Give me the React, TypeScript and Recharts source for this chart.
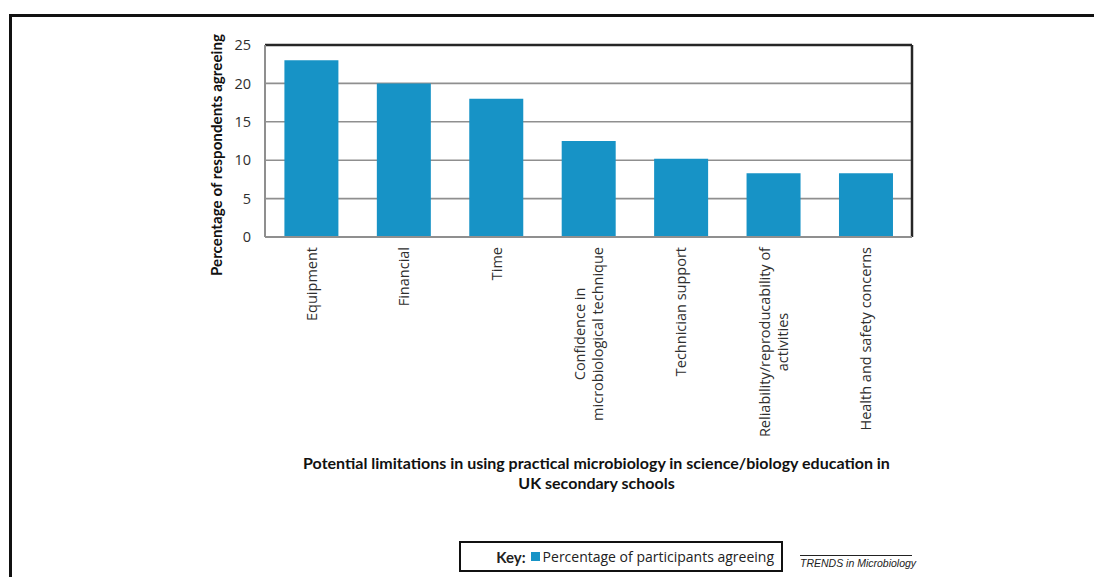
import React from 'react';
import { BarChart, Bar, XAxis, YAxis, CartesianGrid, ReferenceLine } from 'recharts';

// categories (line breaks follow the printed tick labels)
const categories = [
  'Equipment',
  'Financial',
  'Time',
  'Confidence in\nmicrobiological technique',
  'Technician support',
  'Reliability/reproducability of\nactivities',
  'Health and safety concerns',
];
const agreeing = [23, 20, 18, 12.5, 10.2, 8.3, 8.3];
const yTicks = [0, 5, 10, 15, 20, 25];
const xTitle = [
  'Potential limitations in using practical microbiology in science/biology education in',
  'UK secondary schools',
];
const yTitle = 'Percentage of respondents agreeing';
const seriesName = 'Percentage of participants agreeing';

const data = categories.map((c, i) => ({ category: c, value: agreeing[i] }));

const BLUE = '#1793c6';
const GRID = '#8f8f8f';
const FRAME = '#262626';
const TICK_FONT = '14.5px "Open Sans"';

let ctx: CanvasRenderingContext2D | null = null;
const textWidth = (t: string, font: string) => {
  if (!ctx) ctx = document.createElement('canvas').getContext('2d');
  if (!ctx) return t.length * 7;
  ctx.font = font;
  return ctx.measureText(t).width;
};

const CategoryTick = (props: any) => {
  const { x, payload } = props;
  const lines: string[] = String(payload.value).split('\n');
  const w = Math.max(...lines.map((l) => textWidth(l, TICK_FONT)));
  const gap = 18;
  const first = -((lines.length - 1) * gap) / 2;
  return (
    <g transform={`translate(${x},247) rotate(-90)`}>
      {lines.map((l, i) => (
        <text
          key={i}
          x={-w / 2}
          y={first + i * gap}
          textAnchor="middle"
          dominantBaseline="central"
          fill="#2e2e2e"
          style={{ font: TICK_FONT }}
        >
          {l}
        </text>
      ))}
    </g>
  );
};

const XTitle = (props: any) => {
  const vb = props.viewBox || { x: 265, width: 647 };
  const cx = vb.x + vb.width / 2 + 8;
  return (
    <text textAnchor="middle" fill="#111" style={{ font: 'bold 16px Lato' }}>
      {xTitle.map((l, i) => (
        <tspan key={i} x={cx} y={469 + i * 20}>
          {l}
        </tspan>
      ))}
    </text>
  );
};

const YTitle = () => (
  <text
    transform="translate(216,155) rotate(-90)"
    textAnchor="middle"
    dominantBaseline="central"
    fill="#111"
    style={{ font: 'bold 15.2px Lato' }}
  >
    {yTitle}
  </text>
);

const KeyBox = () => (
  <div
    style={{
      position: 'absolute',
      left: 459,
      top: 541,
      width: 324,
      height: 31,
      border: '2px solid #111',
      display: 'flex',
      alignItems: 'center',
      justifyContent: 'flex-end',
      paddingRight: 7,
      boxSizing: 'border-box',
      fontFamily: '"Open Sans"',
      fontSize: 14,
      color: '#222',
    }}
  >
    <span style={{ fontWeight: 'bold', fontFamily: 'Lato', fontSize: 15, marginRight: 5 }}>Key:</span>
    <span style={{ width: 9, height: 9, background: BLUE, marginRight: 3, display: 'inline-block' }} />
    <span>{seriesName}</span>
  </div>
);

// right-hand border of the plot box
const rightEdge = ({ offset }: any) => [offset.left + offset.width];

export default function App() {
  return (
    <div
      style={{
        position: 'absolute',
        left: 0,
        top: 0,
        width: 1094,
        height: 577,
        overflow: 'hidden',
        background: '#fff',
      }}
    >
      <div
        style={{
          position: 'absolute',
          left: 9,
          top: 14,
          width: 1300,
          height: 800,
          border: '3px solid #111',
        }}
      />
      <div style={{ position: 'absolute', left: 0, top: 0 }}>
        <BarChart
          width={1094}
          height={577}
          data={data}
          margin={{ top: 45, right: 182, left: 0, bottom: 0 }}
          barCategoryGap="21%"
        >
          <CartesianGrid vertical={false} stroke={GRID} strokeWidth={1.6} />
          <CartesianGrid
            horizontal={false}
            verticalCoordinatesGenerator={rightEdge}
            stroke={FRAME}
            strokeWidth={2.5}
          />
          <XAxis
            dataKey="category"
            height={340}
            interval={0}
            tickLine={false}
            axisLine={{ stroke: GRID, strokeWidth: 2 }}
            tick={<CategoryTick />}
            label={<XTitle />}
          />
          <YAxis
            width={265}
            domain={[0, 25]}
            ticks={yTicks}
            tickLine={false}
            tickSize={6}
            tickMargin={8}
            axisLine={{ stroke: GRID, strokeWidth: 2 }}
            tick={{ fill: '#2e2e2e', fontSize: 14.5, fontFamily: '"Open Sans"' }}
            label={<YTitle />}
          />
          <ReferenceLine y={25} stroke={FRAME} strokeWidth={2.5} />
          <Bar dataKey="value" name={seriesName} fill={BLUE} isAnimationActive={false} />
        </BarChart>
      </div>
      <KeyBox />
      <div
        style={{
          position: 'absolute',
          left: 800,
          top: 555,
          width: 112,
          borderTop: '1px solid #222',
          fontFamily: '"Liberation Sans"',
          fontStyle: 'italic',
          fontSize: 10.5,
          color: '#222',
          textAlign: 'right',
          paddingTop: 1,
          whiteSpace: 'nowrap',
        }}
      >
        TRENDS in Microbiology
      </div>
    </div>
  );
}
